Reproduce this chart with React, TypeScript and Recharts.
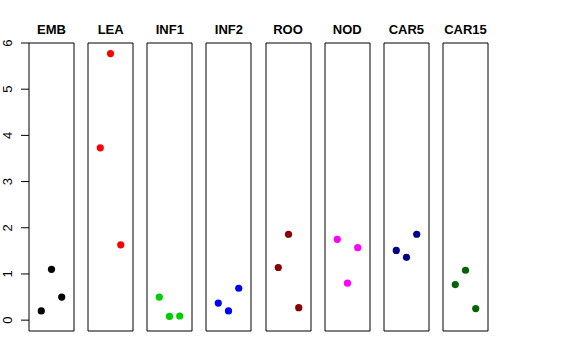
import { ScatterChart, Scatter, XAxis, YAxis, ZAxis, ReferenceArea } from 'recharts';

// panel names and point colours
const groups = ['EMB', 'LEA', 'INF1', 'INF2', 'ROO', 'NOD', 'CAR5', 'CAR15'];
const colors = ['#000000', '#FF0000', '#00CD00', '#0000FF', '#8B0000', '#FF00FF', '#00008B', '#006400'];

// three values per panel, at x = 1, 2, 3
const xPos = [1, 2, 3];
const emb = [0.2, 1.1, 0.5];
const lea = [3.73, 5.77, 1.63];
const inf1 = [0.5, 0.08, 0.09];
const inf2 = [0.37, 0.2, 0.69];
const roo = [1.14, 1.86, 0.27];
const nod = [1.75, 0.8, 1.57];
const car5 = [1.51, 1.36, 1.86];
const car15 = [0.77, 1.08, 0.25];
const yTicks = [0, 1, 2, 3, 4, 5, 6];

const series = [emb, lea, inf1, inf2, roo, nod, car5, car15];

const FONT = '"Liberation Sans", Arial, Helvetica, sans-serif';
const X_DOMAIN: [number, number] = [-0.2, 4.2];
const Y_DOMAIN: [number, number] = [-0.235, 6];
const BOX_W = 45;
const BOX_H = 288;
const BOX_TOP = 43;
const PAD = 8;
const AXIS_W = 29;
const STEP = 59.14;

function boxLeft(i: number) {
  return AXIS_W + i * STEP;
}

function YTick(props: any) {
  const { y, payload } = props;
  return (
    <text
      x={7.5}
      y={y}
      transform={`rotate(-90 7.5 ${y})`}
      textAnchor="middle"
      dominantBaseline="central"
      fontSize={13}
      fontFamily={FONT}
      fill="#000"
    >
      {payload.value}
    </text>
  );
}

function Panel({ i }: { i: number }) {
  const first = i === 0;
  const data = xPos.map((x, k) => ({ x, y: series[i][k] }));
  const color = colors[i];
  const left = first ? 0 : boxLeft(i) - 1;
  const width = first ? AXIS_W + BOX_W + 1 : BOX_W + 2;
  return (
    <div style={{ position: 'absolute', left, top: BOX_TOP - PAD }}>
      <ScatterChart
        width={width}
        height={BOX_H + PAD * 2}
        margin={{ top: PAD, right: 1, bottom: PAD, left: first ? 0 : 1 }}
      >
        <XAxis type="number" dataKey="x" domain={X_DOMAIN} hide />
        <YAxis
          type="number"
          dataKey="y"
          domain={Y_DOMAIN}
          ticks={yTicks}
          interval={0}
          hide={!first}
          width={AXIS_W}
          axisLine={false}
          tickSize={8}
          tickLine={{ stroke: '#000' }}
          tick={<YTick />}
        />
        <ZAxis range={[40, 40]} />
        <ReferenceArea
          x1={X_DOMAIN[0]}
          x2={X_DOMAIN[1]}
          y1={Y_DOMAIN[0]}
          y2={Y_DOMAIN[1]}
          fill="none"
          fillOpacity={0}
          stroke="#000"
          strokeWidth={1}
          ifOverflow="visible"
        />
        <Scatter
          data={data}
          isAnimationActive={false}
          shape={(p: any) => <circle cx={p.cx} cy={p.cy} r={3.6} fill={color} />}
        />
      </ScatterChart>
    </div>
  );
}

export default function App() {
  return (
    <div style={{ position: 'absolute', left: 0, top: 0, width: 576, height: 360, background: '#fff' }}>
      {groups.map((g, i) => (
        <Panel key={g} i={i} />
      ))}
      <svg width={576} height={40} style={{ position: 'absolute', left: 0, top: 0 }}>
        {groups.map((g, i) => (
          <text
            key={g}
            x={boxLeft(i) + BOX_W / 2}
            y={34}
            textAnchor="middle"
            fontSize={13}
            fontWeight="bold"
            fontFamily={FONT}
            fill="#000"
          >
            {g}
          </text>
        ))}
      </svg>
    </div>
  );
}
